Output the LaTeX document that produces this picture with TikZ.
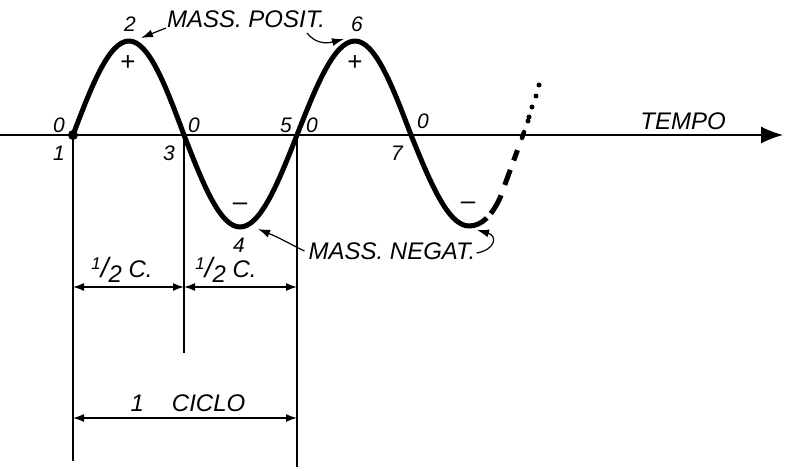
\documentclass[tikz,border=0pt]{standalone}
\usepackage{fontspec}
\setmainfont{Liberation Sans}
\usetikzlibrary{arrows.meta}
\newcommand\halffrac{{\fontsize{17}{17}\selectfont\raisebox{8pt}{1}}\kern0pt{\fontsize{28}{28}\selectfont/}\kern0pt\raisebox{-5pt}{2}}
\begin{document}
\begin{tikzpicture}[x=1pt,y=-1pt,
  lbl/.style={font=\fontsize{24}{26}\selectfont\itshape, inner sep=0pt},
  num/.style={font=\fontsize{21}{23}\selectfont\itshape, inner sep=0pt},
  sign/.style={font=\fontsize{26}{28}\selectfont, inner sep=0pt},
  wave/.style={line width=5pt, line cap=round, line join=round},
  thinline/.style={line width=1.4pt},
  dimline/.style={line width=1.5pt, {Latex[length=11pt,width=8pt]}-{Latex[length=11pt,width=8pt]}},
  pointer/.style={line width=1.2pt, -{Latex[length=12pt,width=8pt]}}]
\useasboundingbox (0,0) rectangle (787,471);
% key points of the wave
\coordinate (p1) at (73,135);
\coordinate (p2) at (129,41);
\coordinate (p3) at (184,135);
\coordinate (p4) at (240,227);
\coordinate (p5) at (297,135);
\coordinate (p6) at (355,41);
\coordinate (p7) at (411,135);
\coordinate (p8) at (469,226);
\coordinate (bend) at (500,198);
\coordinate (p9) at (523,135);
% axis
\coordinate (axL) at (0,135);
\coordinate (axR) at (783,135);
\draw[thinline, -{Latex[length=22pt,width=17pt]}] (axL) -- (axR);
% wave
\draw[wave] (p1) sin (p2) cos (p3) sin (p4) cos (p5) sin (p6) cos (p7) sin (p8);
\draw[wave, line cap=butt, dash pattern=on 20pt off 6pt on 21pt off 11pt on 16pt off 10pt on 11pt off 40pt]
  (p8) .. controls (482,226) and (492,215) .. (bend) -- (p9);
\draw[line width=4.5pt, line cap=round] (522,138) -- (524,132);
\foreach \px/\py in {528/121,529/117,532/107,536/96,539/85}
  \fill (\px,\py) circle (2.5pt);
\fill (p1) circle (5pt);
% vertical lines
\coordinate (v1) at (73,461);
\coordinate (v3) at (184,353);
\coordinate (v5) at (297,467);
\draw[thinline] (p1) -- (v1);
\draw[thinline] (p3) -- (v3);
\draw[thinline] (p5) -- (v5);
% dimension lines
\coordinate (d1) at (73,287);
\coordinate (d2) at (184,287);
\coordinate (d3) at (297,287);
\coordinate (c1) at (73,418);
\coordinate (c2) at (297,418);
\draw[dimline] (d1) -- (d2);
\draw[dimline] (d2) -- (d3);
\draw[dimline] (c1) -- (c2);
% labels
\node[num] (z1) at (59,125) {0};
\node[num] (n1) at (59,153) {1};
\node[num] (n2) at (130,24) {2};
\node[sign] (plus1) at (128,63) {+};
\node[num] (z3) at (194,125) {0};
\node[num] (n3) at (169,153) {3};
\node[num] (n5) at (286,125) {5};
\node[num] (z5) at (312,125) {0};
\node[num] (n6) at (357,24) {6};
\node[sign] (plus2) at (355,63) {+};
\node[num] (z7) at (423,121) {0};
\node[num] (n7) at (397,153) {7};
\node[sign] (minus1) at (240,207) {\textendash};
\node[num] (n4) at (239,245) {4};
\node[sign] (minus2) at (468,206) {\textendash};
\node[lbl] (tempo) at (683,121) {TEMPO};
\node[lbl] (mpos) at (246,19) {MASS.\ POSIT.};
\node[lbl] (mneg) at (392,251) {MASS.\ NEGAT.};
\node[lbl] (half1) at (122,270) {\halffrac\ C.};
\node[lbl] (half2) at (226,270) {\halffrac\ C.};
\node[lbl] (ciclo) at (188,403) {1\hspace{28pt}CICLO};
% pointers
\coordinate (t2) at (141,38);
\coordinate (t6) at (344,39);
\coordinate (t4) at (258,229);
\coordinate (t8) at (477,230);
\draw[pointer] (mpos.west) ++(-1,9) -- (t2);
\draw[pointer] (307,33) .. controls (315,43) and (325,44) .. (t6);
\draw[pointer] (mneg.west) ++(-4,0) .. controls (290,244) and (280,238) .. (t4);
\draw[pointer] (mneg.east) ++(1,2) .. controls (495,250) and (498,236) .. (t8);
\end{tikzpicture}
\end{document}
